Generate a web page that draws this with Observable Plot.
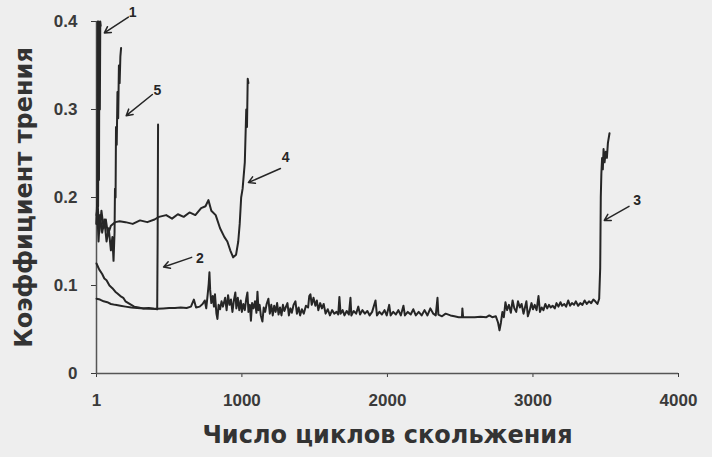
<!DOCTYPE html>
<html>
<head>
<meta charset="utf-8">
<script src="https://cdn.jsdelivr.net/npm/d3@7"></script>
<script src="https://cdn.jsdelivr.net/npm/@observablehq/plot@0.6"></script>
<style>
  html, body { margin: 0; padding: 0; background: #eeeeee; }
  #chart { width: 712px; height: 457px; }
</style>
</head>
<body>
<div id="chart"></div>
<script>
// ---- Data ----
const xTitle = "Число циклов скольжения";
const yTitle = "Коэффициент трения";
const xTicks = [1, 1000, 2000, 3000, 4000];
const yTicks = [0, 0.1, 0.2, 0.3, 0.4];

// curve 1
const c1Cycles = [1, 6, 9, 12, 15, 18, 21, 24, 27, 30];
const c1Values = [0.17, 0.20, 0.40, 0.19, 0.40, 0.22, 0.398, 0.30, 0.40, 0.395];

// curve 2
const c2Cycles = [1, 20, 40, 55, 70, 90, 110, 130, 145, 165, 185, 200, 220, 240, 260, 290, 320, 360, 395, 418, 421, 424];
const c2Values = [0.125, 0.118, 0.113, 0.108, 0.106, 0.100, 0.097, 0.093, 0.091, 0.088, 0.086, 0.082, 0.080, 0.078, 0.076, 0.075, 0.074, 0.0745, 0.0735, 0.073, 0.15, 0.283];

// curve 3
const c3Cycles = [1, 25, 50, 75, 100, 130, 165, 200, 240, 280, 330, 380, 420, 460, 500, 540, 580, 620, 650, 670, 685, 710, 730, 745, 755, 765, 772, 777, 782, 790, 800, 808, 815, 825, 832, 840, 850, 860, 870, 885, 895, 905, 915, 925, 935, 945, 955, 962, 972, 982, 992, 1000, 1010, 1020, 1030, 1038, 1045, 1055, 1062, 1070, 1080, 1090, 1100, 1107, 1114, 1122, 1130, 1141, 1150, 1160, 1170, 1182, 1192, 1202, 1212, 1222, 1232, 1242, 1252, 1262, 1272, 1282, 1292, 1303, 1313, 1323, 1333, 1343, 1355, 1368, 1378, 1390, 1400, 1412, 1425, 1440, 1455, 1463, 1471, 1480, 1492, 1505, 1515, 1525, 1538, 1550, 1562, 1575, 1590, 1605, 1620, 1635, 1650, 1662, 1670, 1678, 1692, 1705, 1720, 1735, 1746, 1752, 1768, 1785, 1800, 1812, 1828, 1845, 1862, 1878, 1895, 1918, 1928, 1945, 1962, 1980, 1995, 2012, 2022, 2040, 2058, 2075, 2092, 2110, 2120, 2140, 2160, 2178, 2195, 2215, 2235, 2255, 2275, 2295, 2315, 2332, 2344, 2350, 2375, 2400, 2433, 2460, 2490, 2512, 2515, 2520, 2560, 2600, 2640, 2680, 2700, 2720, 2745, 2760, 2770, 2780, 2790, 2800, 2811, 2822, 2835, 2848, 2860, 2872, 2885, 2897, 2910, 2922, 2935, 2945, 2955, 2965, 2978, 2990, 3000, 3012, 3025, 3038, 3048, 3060, 3072, 3085, 3098, 3110, 3122, 3135, 3150, 3162, 3175, 3189, 3200, 3215, 3228, 3242, 3255, 3268, 3282, 3295, 3310, 3325, 3340, 3355, 3370, 3385, 3400, 3415, 3428, 3443, 3455, 3462, 3466, 3470, 3475, 3480, 3485, 3492, 3500, 3508, 3515, 3526];
const c3Values = [0.085, 0.084, 0.082, 0.081, 0.079, 0.078, 0.077, 0.076, 0.075, 0.0745, 0.074, 0.0735, 0.0735, 0.074, 0.0745, 0.0745, 0.075, 0.0745, 0.076, 0.084, 0.075, 0.076, 0.079, 0.083, 0.074, 0.09, 0.102, 0.115, 0.095, 0.08, 0.088, 0.076, 0.09, 0.068, 0.062, 0.078, 0.073, 0.082, 0.076, 0.086, 0.072, 0.089, 0.078, 0.084, 0.07, 0.083, 0.092, 0.074, 0.086, 0.072, 0.083, 0.07, 0.079, 0.072, 0.085, 0.092, 0.07, 0.078, 0.06, 0.08, 0.074, 0.082, 0.069, 0.093, 0.072, 0.078, 0.066, 0.059, 0.075, 0.07, 0.079, 0.085, 0.068, 0.078, 0.066, 0.077, 0.07, 0.08, 0.067, 0.075, 0.066, 0.078, 0.071, 0.076, 0.08, 0.066, 0.074, 0.069, 0.078, 0.082, 0.068, 0.075, 0.066, 0.073, 0.068, 0.077, 0.075, 0.088, 0.09, 0.078, 0.086, 0.077, 0.083, 0.072, 0.08, 0.074, 0.079, 0.068, 0.073, 0.066, 0.072, 0.068, 0.07, 0.067, 0.087, 0.068, 0.072, 0.066, 0.071, 0.067, 0.086, 0.066, 0.071, 0.068, 0.076, 0.067, 0.072, 0.068, 0.071, 0.066, 0.07, 0.083, 0.066, 0.07, 0.067, 0.072, 0.066, 0.078, 0.066, 0.07, 0.067, 0.072, 0.066, 0.077, 0.066, 0.07, 0.067, 0.073, 0.066, 0.07, 0.066, 0.072, 0.066, 0.074, 0.068, 0.066, 0.086, 0.067, 0.065, 0.068, 0.066, 0.065, 0.064, 0.064, 0.074, 0.064, 0.064, 0.064, 0.0645, 0.064, 0.066, 0.064, 0.065, 0.058, 0.049, 0.058, 0.07, 0.064, 0.081, 0.072, 0.078, 0.069, 0.083, 0.074, 0.07, 0.082, 0.075, 0.079, 0.068, 0.075, 0.082, 0.065, 0.072, 0.08, 0.073, 0.078, 0.072, 0.088, 0.07, 0.075, 0.072, 0.079, 0.074, 0.078, 0.075, 0.077, 0.074, 0.08, 0.076, 0.081, 0.077, 0.079, 0.076, 0.083, 0.077, 0.08, 0.078, 0.082, 0.077, 0.08, 0.078, 0.083, 0.079, 0.082, 0.08, 0.084, 0.082, 0.079, 0.085, 0.12, 0.2, 0.227, 0.245, 0.232, 0.255, 0.24, 0.252, 0.245, 0.262, 0.273];

// curve 4
const c4Cycles = [1, 10, 20, 35, 50, 65, 80, 100, 130, 160, 200, 250, 300, 350, 400, 430, 480, 520, 560, 600, 640, 680, 720, 750, 770, 790, 820, 850, 880, 900, 920, 940, 960, 975, 985, 995, 1005, 1020, 1030, 1035, 1040, 1045];
const c4Values = [0.18, 0.19, 0.16, 0.185, 0.165, 0.175, 0.158, 0.168, 0.172, 0.173, 0.172, 0.17, 0.174, 0.172, 0.175, 0.178, 0.18, 0.176, 0.181, 0.178, 0.183, 0.18, 0.188, 0.19, 0.197, 0.185, 0.18, 0.165, 0.155, 0.15, 0.14, 0.132, 0.135, 0.15, 0.17, 0.2, 0.21, 0.24, 0.3, 0.28, 0.335, 0.33];

// curve 5
const c5Cycles = [1, 5, 15, 25, 40, 55, 70, 85, 100, 110, 118, 125, 128, 132, 135, 140, 145, 150, 155, 160, 165, 170];
const c5Values = [0.17, 0.19, 0.15, 0.18, 0.16, 0.175, 0.15, 0.165, 0.14, 0.155, 0.128, 0.16, 0.21, 0.20, 0.28, 0.26, 0.32, 0.29, 0.35, 0.33, 0.36, 0.37];

// curve-number annotations: label position and arrow from/to (data units)
const annLabels = ["1", "2", "3", "4", "5"];
const annLabelX = [250, 712, 3715, 1300, 420];
const annLabelY = [0.41, 0.131, 0.197, 0.246, 0.322];
const annFromX = [220, 655, 3660, 1265, 385];
const annFromY = [0.405, 0.132, 0.19, 0.233, 0.317];
const annToX = [55, 462, 3490, 1045, 205];
const annToY = [0.387, 0.121, 0.174, 0.217, 0.293];

// ---- Build tables ----
const curves = [
  [c1Cycles, c1Values], [c2Cycles, c2Values], [c3Cycles, c3Values],
  [c4Cycles, c4Values], [c5Cycles, c5Values]
];
const table = [];
curves.forEach(([cs, vs], i) => cs.forEach((c, j) => table.push({curve: String(i + 1), cycle: c, value: vs[j]})));
const ann = annLabels.map((l, i) => ({
  label: l, lx: annLabelX[i], ly: annLabelY[i],
  x1: annFromX[i], y1: annFromY[i], x2: annToX[i], y2: annToY[i]
}));

const ink = "#262626";
const titleFont = "'DejaVu Sans', Verdana, sans-serif";
const chart = Plot.plot({
  width: 712,
  height: 457,
  marginLeft: 96,
  marginRight: 34,
  marginTop: 21,
  marginBottom: 84,
  style: {background: "#eeeeee", fontFamily: "'Liberation Sans', Arial, sans-serif", fontWeight: "bold", color: "#3a3a3a"},
  x: {domain: [1, 4000]},
  y: {domain: [0, 0.4]},
  marks: [
    Plot.axisX({ticks: xTicks, tickFormat: d => String(d), tickSize: 4, tickPadding: 16, fontSize: 17, label: null}),
    Plot.axisY({ticks: yTicks, tickFormat: d => String(d), tickSize: 5, tickPadding: 14, fontSize: 17, label: null}),
    Plot.ruleY([0], {stroke: "#555", strokeWidth: 1.5}),
    Plot.ruleX([1], {stroke: "#555", strokeWidth: 1.5}),
    Plot.line(table, {x: "cycle", y: "value", z: "curve", stroke: ink, strokeWidth: 2, strokeLinejoin: "round"}),
    Plot.arrow(ann, {x1: "x1", y1: "y1", x2: "x2", y2: "y2", stroke: ink, strokeWidth: 1.5, headLength: 7, bend: 0}),
    Plot.text(ann, {x: "lx", y: "ly", text: "label", fontSize: 14, fontWeight: "bold", fill: ink}),
    Plot.text([yTitle], {frameAnchor: "left", textAnchor: "middle", dx: -72, rotate: -90, fontSize: 24, fontWeight: "bold", fontFamily: titleFont, fill: "#333"}),
    Plot.text([xTitle], {frameAnchor: "bottom", dy: 69, fontSize: 24, fontWeight: "bold", fontFamily: titleFont, fill: "#333"})
  ]
});
document.getElementById("chart").appendChild(chart);
</script>
</body>
</html>
